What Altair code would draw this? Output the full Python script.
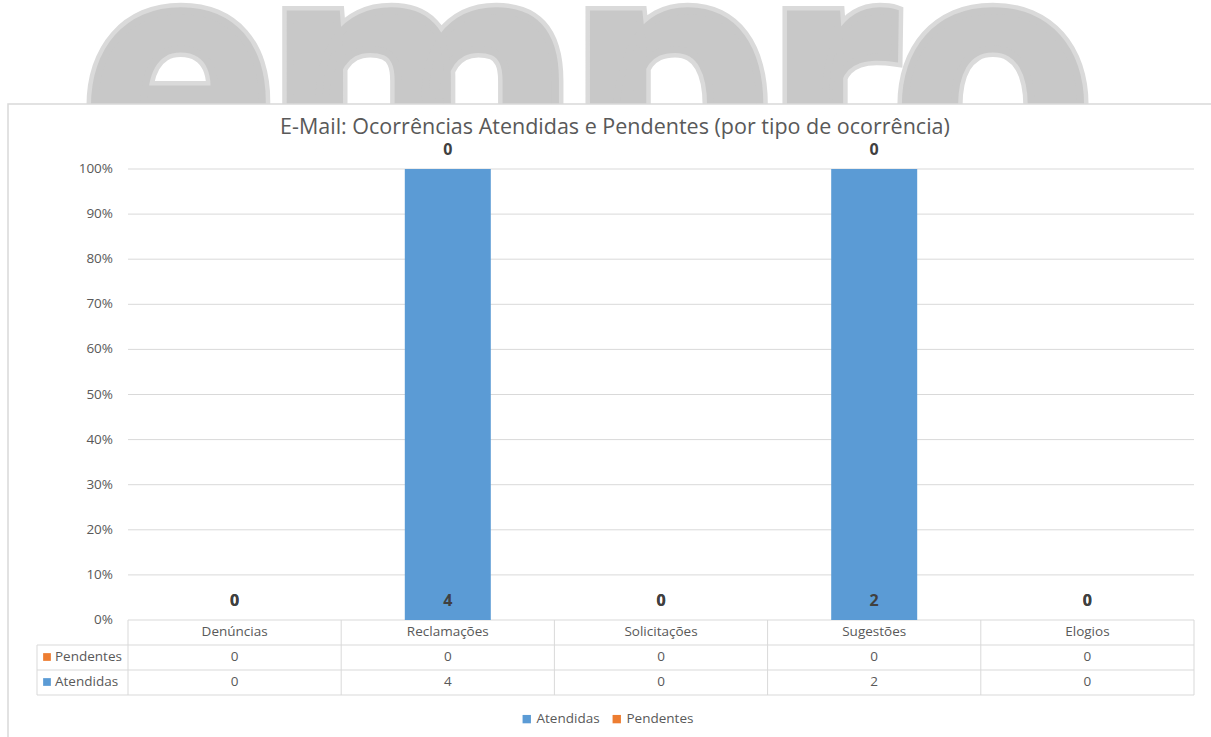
import altair as alt
import pandas as pd

categories = ["Denúncias", "Reclamações", "Solicitações", "Sugestões", "Elogios"]
atendidas = [0, 4, 0, 2, 0]
pendentes = [0, 0, 0, 0, 0]
series_names = ["Atendidas", "Pendentes"]
series_colors = ["#5B9BD5", "#ED7D31"]
y_ticks = [0.0, 0.1, 0.2, 0.3, 0.4, 0.5, 0.6, 0.7, 0.8, 0.9, 1.0]
title_text = "E-Mail: Ocorrências Atendidas e Pendentes (por tipo de ocorrência)"

FONT = "Open Sans"
GREY = "#595959"
LINE = "#D9D9D9"
W, H = 1066, 451
n = len(categories)

# build stacked 100% table
rows = []
for i, c in enumerate(categories):
    tot = atendidas[i] + pendentes[i]
    a_pct = atendidas[i] / tot if tot else 0.0
    p_pct = pendentes[i] / tot if tot else 0.0
    rows.append(dict(cat=c, x=i + 0.5, series="Atendidas", value=atendidas[i],
                     y0=0.0, y1=a_pct))
    rows.append(dict(cat=c, x=i + 0.5, series="Pendentes", value=pendentes[i],
                     y0=a_pct, y1=a_pct + p_pct))
df = pd.DataFrame(rows)

xscale = alt.Scale(domain=[0, n], nice=False, zero=False, padding=0)
yscale = alt.Scale(domain=[0, 1], nice=False, padding=0)
X = alt.X("x:Q", scale=xscale, axis=None)

one = pd.DataFrame({"d": [0]})
tick_df = pd.DataFrame({"t": y_ticks, "lab": [f"{round(t * 100)}%" for t in y_ticks]})

# watermark "empro" above chart frame (rim underlay + fill)
wm_rim = alt.Chart(one).mark_text(
    text="empro", font="Roboto", fontWeight="bold", fontSize=350,
    fill="#DADADA", stroke="#DADADA", strokeWidth=16, baseline="alphabetic",
    align="center"
).encode(x=alt.value(459), y=alt.value(30))
wm_fill = alt.Chart(one).mark_text(
    text="empro", font="Roboto", fontWeight="bold", fontSize=350,
    fill="#C8C8C8", stroke="#C8C8C8", strokeWidth=7, baseline="alphabetic",
    align="center"
).encode(x=alt.value(459), y=alt.value(30))

frame = alt.Chart(one).mark_rect(fill="white", stroke=LINE, strokeWidth=1.5).encode(
    x=alt.value(-120), x2=alt.value(1100), y=alt.value(-65), y2=alt.value(600)
)

grid = alt.Chart(tick_df).mark_rule(color=LINE, strokeWidth=1).encode(
    x=alt.value(0), x2=alt.value(W),
    y=alt.Y("t:Q", scale=yscale, axis=None),
)
ylabels = alt.Chart(tick_df).mark_text(
    font=FONT, fontSize=13.5, color=GREY, align="right", baseline="middle"
).encode(x=alt.value(-15), y=alt.Y("t:Q", scale=yscale, axis=None), text="lab:N")

bars = alt.Chart(df).mark_bar(size=86).encode(
    x=X,
    y=alt.Y("y0:Q", scale=yscale, axis=None),
    y2="y1:Q",
    color=alt.Color("series:N",
                    scale=alt.Scale(domain=series_names, range=series_colors),
                    legend=alt.Legend(orient="none", legendX=392, legendY=543,
                                      direction="horizontal", title=None,
                                      symbolType="square", symbolSize=70,
                                      symbolStrokeWidth=0, labelFontSize=13.5,
                                      labelColor=GREY, labelFont=FONT,
                                      columnPadding=10, labelOffset=3)),
)

labels = alt.Chart(df).mark_text(
    font=FONT, fontWeight="bold", fontSize=16, color="#404040", dy=-19,
    baseline="middle"
).encode(x=X, y=alt.Y("y0:Q", scale=yscale, axis=None), text="value:Q")

layers = [wm_rim, wm_fill, frame, grid, ylabels, bars, labels]

# table grid
bounds = pd.DataFrame({"x": list(range(n + 1))})
layers.append(alt.Chart(bounds).mark_rule(color=LINE, strokeWidth=1).encode(
    x=alt.X("x:Q", scale=xscale, axis=None), y=alt.value(H), y2=alt.value(H + 75)))
layers.append(alt.Chart(one).mark_rule(color=LINE, strokeWidth=1).encode(
    x=alt.value(-91), y=alt.value(H + 25), y2=alt.value(H + 75)))
for yy in [H + 25, H + 50, H + 75]:
    layers.append(alt.Chart(one).mark_rule(color=LINE, strokeWidth=1).encode(
        x=alt.value(-91), x2=alt.value(W), y=alt.value(yy)))

TS = 13.5
cat_df = pd.DataFrame({"x": [i + 0.5 for i in range(n)], "cat": categories})
layers.append(alt.Chart(cat_df).mark_text(font=FONT, fontSize=TS, color=GREY).encode(
    x=alt.X("x:Q", scale=xscale, axis=None), y=alt.value(H + 12), text="cat:N"))

row_specs = [("Pendentes", H + 37), ("Atendidas", H + 62)]
for name, yy in row_specs:
    sub = df[df.series == name]
    layers.append(alt.Chart(sub).mark_text(font=FONT, fontSize=TS, color=GREY).encode(
        x=X, y=alt.value(yy), text="value:Q"))
    col = series_colors[series_names.index(name)]
    layers.append(alt.Chart(one).mark_square(size=60, color=col, opacity=1).encode(
        x=alt.value(-81), y=alt.value(yy)))
    layers.append(alt.Chart(one).mark_text(text=name, font=FONT, fontSize=TS,
                                           color=GREY, align="left").encode(
        x=alt.value(-73), y=alt.value(yy)))

layers.append(alt.Chart(one).mark_text(text=title_text, font=FONT, fontSize=21.5,
                                       color=GREY, align="center").encode(
    x=alt.value(487), y=alt.value(-41)))

chart = alt.layer(*layers).properties(
    width=W, height=H,
    autosize=alt.AutoSizeParams(type="none"),
    padding={"left": 128, "top": 169, "right": 17, "bottom": 117},
).configure_view(stroke=None).configure(background="white")

chart.save("out.html", embed_options={"renderer": "svg", "actions": False})
